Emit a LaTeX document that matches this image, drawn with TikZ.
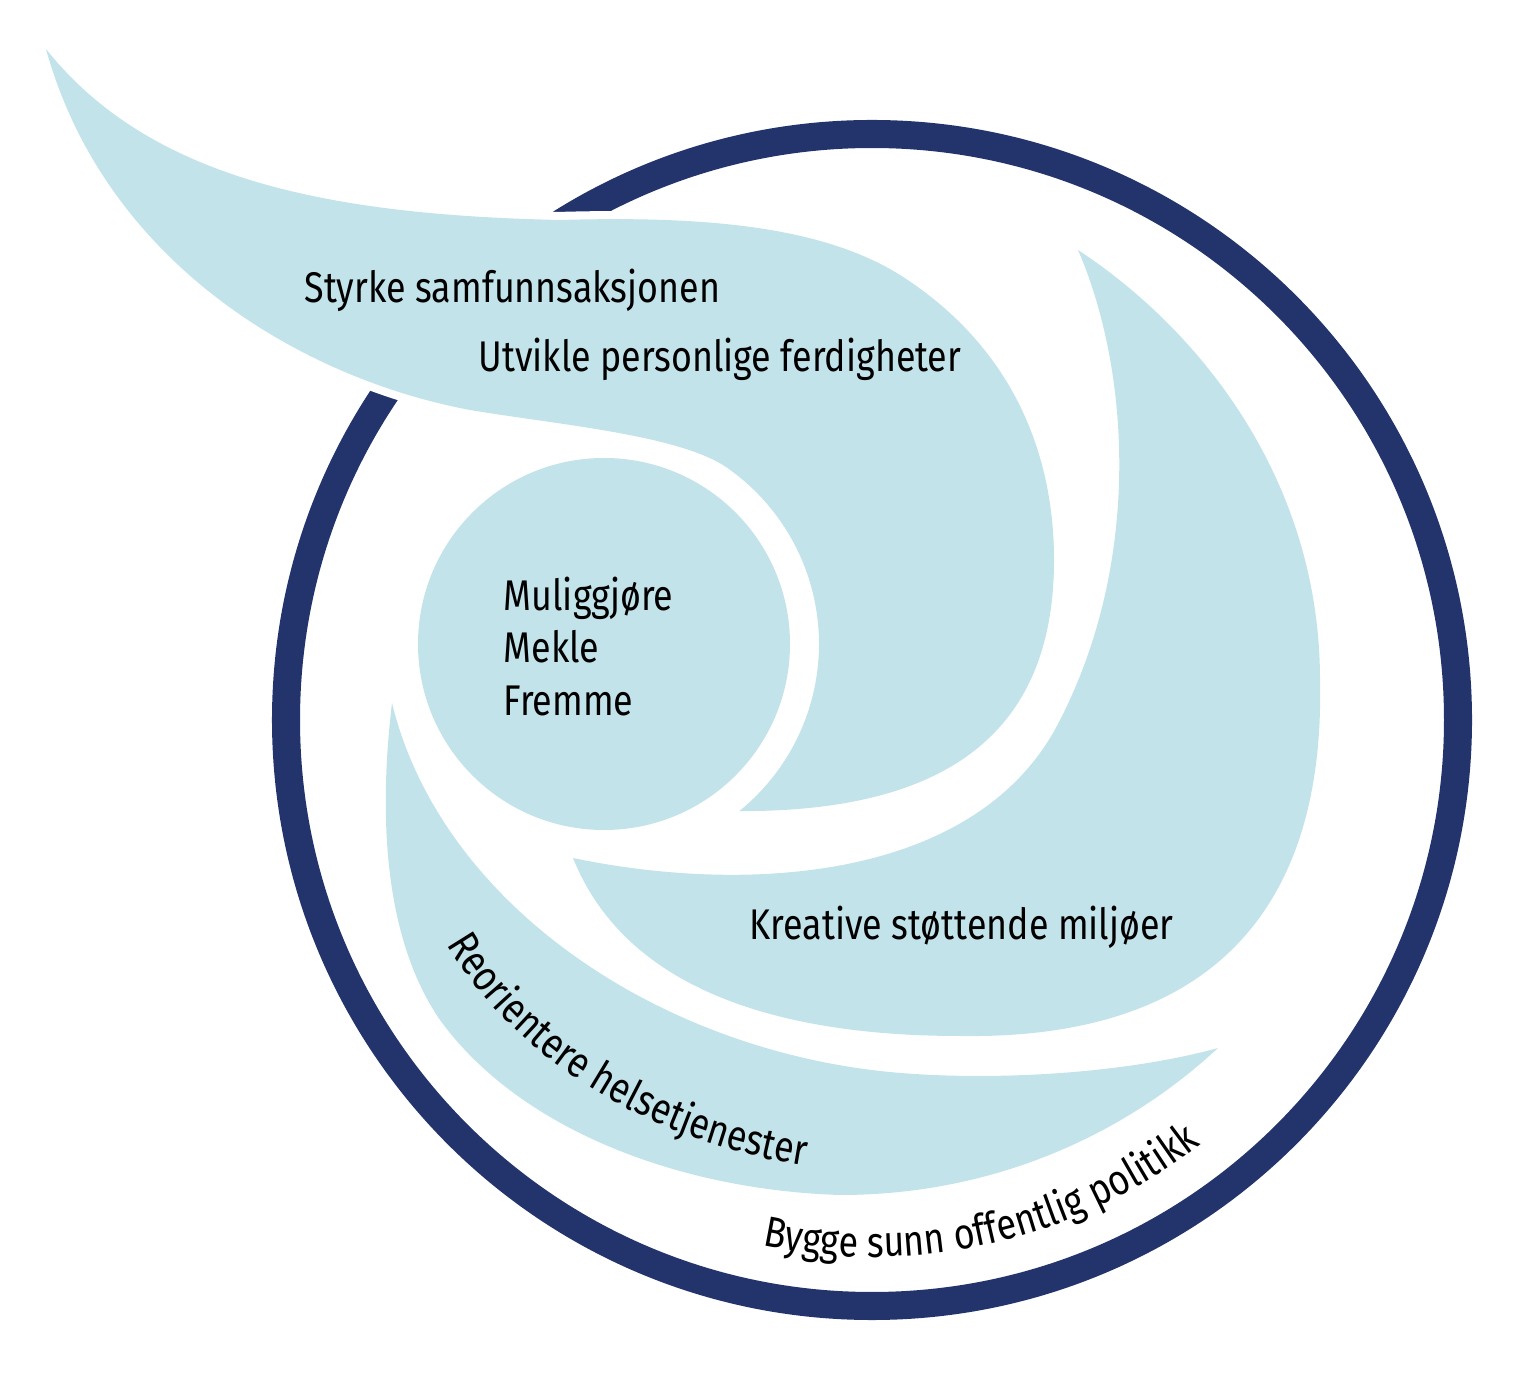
\documentclass[tikz,border=0pt]{standalone}
\usepackage{fontspec}
\newfontfamily\labelfont[FakeStretch=0.835]{Fira Sans}
\usepackage{tikz}
\usetikzlibrary{decorations.text}
\definecolor{WaveBlue}{HTML}{C2E3EA}
\definecolor{RingNavy}{HTML}{22346B}
\newcommand{\labelsize}{\labelfont\fontsize{12.2}{14}\selectfont}
\tikzset{
  wave/.style={fill=WaveBlue},
  wavetext/.style={font=\labelsize, text=black, inner sep=0pt, anchor=base west},
}

\begin{document}
\begin{tikzpicture}[x=0.01cm, y=-0.01cm]
    \useasboundingbox (0,0) rectangle (1536,1389);
    \coordinate (ring) at (872,720);
    \coordinate (core) at (604,644);

    \draw[RingNavy, line width=7.97pt] (ring) circle[radius=586];

    \fill[wave, preaction={draw=white, line width=4.6pt}]
      (core) ++(51:215) coordinate (tipA)
      arc[start angle=51, end angle=-55, radius=215]
      .. controls (680,435) and (560,425) .. (470,410)
      .. controls (300,378) and (105,262) .. (46,49)
      .. controls (150,180) and (330,215) .. (560,220)
      .. controls (700,216) and (820,225) .. (900,275)
      .. controls (1010,345) and (1054,450) .. (1054,560)
      .. controls (1054,730) and (950,812) .. (tipA) -- cycle;

    \fill[wave] (core) circle[radius=186];

    \fill[wave] (1078,250)
      .. controls (1130,370) and (1142,560) .. (1060,720)
      .. controls (980,880) and (750,895) .. (573,858)
      .. controls (630,1000) and (800,1036) .. (960,1036)
      .. controls (1220,1040) and (1325,900) .. (1320,680)
      .. controls (1320,480) and (1200,330) .. (1078,250) -- cycle;

    \fill[wave] (392,703)
      .. controls (378,820) and (385,940) .. (440,1020)
      .. controls (520,1130) and (680,1190) .. (840,1195)
      .. controls (1000,1195) and (1130,1130) .. (1218,1048)
      .. controls (1120,1075) and (980,1082) .. (880,1071)
      .. controls (650,1045) and (440,900) .. (392,703) -- cycle;

    \node[wavetext] (styrke) at (304,303) {Styrke samfunnsaksjonen};
    \node[wavetext] (utvikle) at (478,372) {Utvikle personlige ferdigheter};
    \node[wavetext] (mulig) at (503,611) {Muliggjøre};
    \node[wavetext] (mekle) at (503,663) {Mekle};
    \node[wavetext] (fremme) at (503,716) {Fremme};
    \node[wavetext] (kreativ) at (749,940) {Kreative støttende miljøer};

    \path[decorate, decoration={text along path, text={|\labelsize|Reorientere helsetjenester}}]
      (447,944) .. controls (510,1052) and (640,1140) .. (806,1166);
    \path[decorate, decoration={text along path, text align=center, text={|\labelsize|Bygge sunn offentlig politikk}}]
      (ring) ++(107:537) arc[start angle=107, end angle=47, radius=537];
\end{tikzpicture}
\end{document}
